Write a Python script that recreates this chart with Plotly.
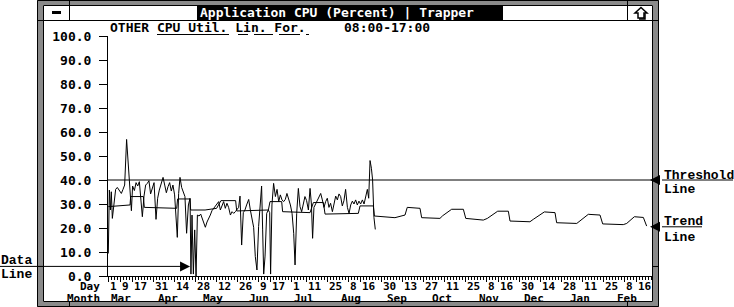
import plotly.graph_objects as go

# ---------------- data (x = days after 1 Mar) ----------------
data_day = [0.2, 0.9, 1.6, 2.2, 2.9, 4.0, 5.1, 6.2, 7.6, 8.9,
            10.0, 11.1, 12.4, 13.3, 14.2, 15.6, 16.4, 17.6, 18.7, 19.8,
            20.9, 22.0, 22.9, 24.0, 25.1, 26.2, 27.3, 28.4, 29.6, 30.7,
            32.0, 33.1, 34.2, 35.3, 36.7, 37.8, 38.9, 40.0, 41.1, 42.2,
            43.3, 44.4, 45.6, 46.2, 47.1, 48.0, 49.1, 50.2, 51.3, 52.4,
            53.6, 54.7, 55.3, 56.0, 56.9, 57.8, 58.7, 59.6, 60.7, 61.8,
            62.9, 64.0, 64.9, 66.0, 67.1, 68.2, 69.3, 70.4, 71.6, 72.7,
            73.8, 74.9, 76.0, 77.1, 78.2, 79.3, 80.4, 81.6, 82.7, 83.8,
            84.9, 86.0, 87.1, 88.0, 89.1, 90.2, 91.3, 92.4, 93.8, 94.9,
            96.0, 97.1, 98.2, 99.3, 100.4, 101.6, 102.4, 103.1, 103.8, 104.7,
            105.8, 106.9, 107.8, 108.4, 109.3, 110.4, 111.6, 112.7, 113.8, 114.9,
            116.0, 117.1, 118.2, 119.3, 120.4, 121.6, 122.7, 123.8, 124.7, 125.8,
            126.9, 128.0, 129.1, 130.2, 131.3, 132.4, 133.6, 134.7, 135.6, 136.4,
            137.3, 138.4, 139.6, 140.7, 141.8, 142.9, 144.0, 145.1, 146.2, 147.3,
            148.4, 149.6, 150.7, 151.8, 152.9, 154.0, 155.1, 156.2, 157.3, 158.4,
            159.6, 160.7, 161.8, 162.9, 164.0, 165.1, 166.2, 167.3, 168.4, 169.6,
            170.7, 171.8, 172.9, 173.8, 174.7, 175.6, 176.4, 177.3, 178.2]
data_val = [9.4, 35.8, 27.5, 35.1, 24.0, 31.7, 36.1, 36.9, 35.6, 34.4,
            36.1, 37.9, 56.9, 47.6, 36.5, 27.2, 37.5, 35.6, 38.9, 37.5,
            39.3, 32.4, 24.7, 33.3, 37.9, 38.6, 39.7, 34.2, 36.5, 38.9,
            23.6, 32.4, 35.8, 38.6, 41.1, 37.9, 34.7, 37.2, 38.9, 35.4,
            37.9, 33.8, 21.9, 16.1, 34.4, 41.1, 36.9, 35.1, 33.1, 17.8,
            29.6, 32.4, 0.8, 25.4, 0.8, 19.2, 0.0, 25.4, 25.0, 25.8,
            23.6, 21.9, 20.3, 22.5, 24.4, 25.4, 27.2, 28.1, 28.9, 30.0,
            31.0, 27.5, 29.6, 31.0, 28.2, 30.3, 28.6, 25.4, 26.8, 26.1,
            26.8, 27.5, 28.6, 33.3, 12.9, 26.4, 27.5, 29.6, 31.9, 27.5,
            24.0, 20.3, 8.1, 2.5, 20.6, 31.4, 37.5, 19.2, 0.8, 8.3,
            26.1, 27.5, 26.4, 0.8, 29.6, 38.6, 33.1, 36.1, 31.0, 33.8,
            31.7, 31.0, 31.9, 34.4, 32.4, 29.6, 26.1, 17.8, 4.6, 26.1,
            36.5, 28.9, 26.8, 30.0, 33.1, 31.4, 27.5, 36.5, 30.0, 15.7,
            28.6, 30.0, 31.7, 33.3, 34.4, 31.7, 28.6, 31.0, 32.4, 28.6,
            30.3, 26.8, 30.0, 33.3, 31.7, 34.2, 33.1, 29.2, 31.4, 36.1,
            28.6, 26.1, 29.6, 31.2, 30.0, 31.7, 29.6, 31.2, 30.0, 31.7,
            30.0, 33.1, 36.1, 32.4, 48.1, 44.9, 40.0, 24.4, 19.4]

trend_day = [0.2, 8.0, 14.7, 15.1, 23.6, 24.2, 45.8, 46.4, 54.7, 55.1,
             64.7, 72.4, 75.3, 85.1, 85.8, 106.9, 108.0, 115.8, 116.4, 134.7,
             136.9, 143.6, 144.7, 166.9, 168.0, 176.9, 177.6, 191.3, 198.0, 199.5,
             208.0, 209.1, 221.3, 223.1, 229.1, 236.9, 238.5, 250.2, 252.9, 259.8,
             266.9, 268.0, 281.3, 283.5, 290.9, 298.0, 299.1, 312.5, 314.7, 320.2,
             328.0, 329.8, 343.5, 345.8, 350.9, 356.9, 359.1]
trend_val = [28.9, 29.4, 29.6, 33.1, 33.1, 28.6, 28.2, 32.1, 32.1, 27.5,
             27.5, 28.2, 31.4, 31.4, 27.1, 27.5, 31.0, 31.0, 26.8, 26.4,
             30.6, 30.6, 25.8, 26.1, 29.2, 29.2, 25.0, 24.3, 25.4, 28.6,
             28.2, 24.3, 24.0, 25.1, 27.8, 27.8, 24.0, 23.3, 24.0, 27.0,
             27.0, 22.9, 22.6, 23.6, 26.7, 26.4, 22.2, 21.9, 22.9, 25.7,
             25.4, 21.7, 21.4, 21.9, 24.7, 24.4, 20.8]

THRESHOLD = 40.0
TREND_END = 20.5
DATA_POINTER = (54.7, 4.0)

tick_days = [0, 8, 16, 30, 44, 58, 72, 86, 100, 108, 122, 132, 146, 160, 168,
             182, 196, 210, 224, 238, 252, 260, 274, 288, 302, 316, 330, 344, 352]
tick_text = ["1", "9", "17", "31", "14", "28", "12", "26", "9", "17", "1", "11", "25", "8", "16",
             "30", "13", "27", "11", "25", "8", "16", "30", "14", "28", "11", "25", "8", "16"]
month_days = [0, 31, 61, 92, 122, 153, 184, 214, 245, 275, 306, 337]
month_text = ["Mar", "Apr", "May", "Jun", "Jul", "Aug", "Sep", "Oct", "Nov", "Dec", "Jan", "Feb"]
y_ticks = [0, 10, 20, 30, 40, 50, 60, 70, 80, 90, 100]
y_text = ["0.0", "10.0", "20.0", "30.0", "40.0", "50.0", "60.0", "70.0", "80.0", "90.0", "100.0"]

# ---------------- geometry ----------------
W, H = 734, 307
ML, MR, MT, MB = 108, 81, 36, 31
PW = W - ML - MR
PH = H - MT - MB
X_MAX = PW / 1.5


def px(x):
    return (x - ML) / PW


def py(y):
    return (H - MB - y) / PH


SYS = dict(family="DejaVu Sans Mono", size=13, color="black", weight="bold")
SYS_S = dict(family="DejaVu Sans Mono", size=11, color="black", weight="bold")
SERIF = dict(family="Liberation Mono", size=13, color="black", weight="bold")
HATCH = "#8a8a8a"

fig = go.Figure()
fig.add_trace(go.Scatter(x=data_day, y=data_val, mode="lines",
                         line=dict(color="black", width=1), showlegend=False, hoverinfo="skip"))
fig.add_trace(go.Scatter(x=trend_day, y=trend_val, mode="lines",
                         line=dict(color="black", width=1), showlegend=False, hoverinfo="skip"))

shapes = []


def rect(x0, y0, x1, y1, fill, lw=0):
    shapes.append(dict(type="rect", xref="paper", yref="paper", x0=px(x0), x1=px(x1),
                       y0=py(y1), y1=py(y0), fillcolor=fill,
                       line=dict(width=lw, color="black"), layer="above"))


def seg(x0, y0, x1, y1, w=1):
    shapes.append(dict(type="line", xref="paper", yref="paper", x0=px(x0), x1=px(x1),
                       y0=py(y0), y1=py(y1), line=dict(width=w, color="black"), layer="above"))


# window frame (hatched border)
rect(37, 0, 659, 5, HATCH)
rect(37, 302, 659, 307, HATCH)
rect(37, 0, 43, 307, HATCH)
rect(653, 0, 659, 307, HATCH)
rect(37.5, 0.5, 658.5, 306.5, "rgba(0,0,0,0)", 1)
rect(43.5, 5.5, 652.5, 301.5, "rgba(0,0,0,0)", 1)
# resize notches
for xx in (69.5, 627.5):
    seg(xx, 0, xx, 5)
    seg(xx, 302, xx, 307)
for yy in (20.5, 266.5):
    seg(37, yy, 43, yy)
    seg(653, yy, 659, yy)
# title bar
seg(43, 20.5, 653, 20.5)
seg(69.5, 5, 69.5, 20.5)
seg(627.5, 5, 627.5, 20.5)
rect(197, 6, 503, 20, "black")
rect(52, 11, 61, 14, "black")
arrow_pts = [(641, 7.5), (647, 13), (644, 13), (644, 18), (638, 18), (638, 13), (635, 13)]
shadow_pts = [(645, 13.5), (645, 19), (639, 19)]
path = "M " + " L ".join(f"{px(a):.5f},{py(b):.5f}" for a, b in arrow_pts) + " Z"
shapes.append(dict(type="path", xref="paper", yref="paper", path=path,
                   fillcolor="white", line=dict(color="black", width=1.5), layer="above"))
spath = "M " + " L ".join(f"{px(a):.5f},{py(b):.5f}" for a, b in shadow_pts)
shapes.append(dict(type="path", xref="paper", yref="paper", path=spath,
                   line=dict(color="black", width=1.5), layer="above"))
# header underlines
for a, b in [(157, 229), (238, 248), (254, 273), (279, 300), (306, 309)]:
    seg(a, 34.5, b, 34.5)

# threshold line + side label underlines
shapes.append(dict(type="line", xref="x", yref="y", x0=0, x1=X_MAX, y0=THRESHOLD, y1=THRESHOLD,
                   line=dict(color="black", width=1), layer="above"))
shapes.append(dict(type="line", xref="paper", yref="y", x0=px(662), x1=px(733),
                   y0=THRESHOLD, y1=THRESHOLD, line=dict(color="black", width=1), layer="above"))
shapes.append(dict(type="line", xref="paper", yref="y", x0=px(662), x1=px(702),
                   y0=TREND_END, y1=TREND_END, line=dict(color="black", width=1), layer="above"))
shapes.append(dict(type="line", xref="paper", yref="y", x0=px(0), x1=px(186),
                   y0=DATA_POINTER[1], y1=DATA_POINTER[1], line=dict(color="black", width=1),
                   layer="above"))

ann = []


def text(x, y, s, anchor="left", font=SYS, color=None):
    f = dict(font)
    if color:
        f["color"] = color
    ann.append(dict(x=px(x), y=py(y), xref="paper", yref="paper", text=s, showarrow=False,
                    xanchor=anchor, yanchor="middle", font=f, borderpad=0))


# title + header
text(199, 12.4, "Application CPU (Percent) | Trapper", color="white")
text(109, 27.9, "OTHER CPU Util. Lin. For.")
text(343, 27.9, "08:00-17:00")
# axis row captions
text(101, 286, "Day", "right", font=SYS_S)
text(101, 298.5, "Month", "right", font=SYS_S)
for d, t in zip(tick_days, tick_text):
    ann.append(dict(x=d, y=py(286), xref="x", yref="paper", text=t, showarrow=False,
                    xanchor="left", xshift=1, yanchor="middle", font=SYS_S, borderpad=0))
for d, t in zip(month_days, month_text):
    ann.append(dict(x=d, y=py(298.5), xref="x", yref="paper", text=t, showarrow=False,
                    xanchor="left", xshift=2, yanchor="middle", font=SYS_S, borderpad=0))
# side call-outs
text(663, 175, "Threshold", font=SERIF)
text(663, 189, "Line", font=SERIF)
text(663, 221, "Trend", font=SERIF)
text(663, 237, "Line", font=SERIF)
text(0, 260, "Data", font=SERIF)
text(0, 274, "Line", font=SERIF)
# arrow heads
for (x, y, axo) in [(X_MAX - 2, THRESHOLD, 6), (X_MAX - 2, TREND_END, 6),
                    (DATA_POINTER[0], DATA_POINTER[1], -6)]:
    ann.append(dict(x=x, y=y, xref="x", yref="y", text="", showarrow=True, ax=axo, ay=0,
                    arrowhead=2, arrowsize=2, arrowwidth=1, arrowcolor="black", standoff=0))

fig.update_layout(
    width=W, height=H, margin=dict(l=ML, r=MR, t=MT, b=MB, pad=0),
    paper_bgcolor="white", plot_bgcolor="white", showlegend=False,
    xaxis=dict(range=[0, X_MAX], showgrid=False, zeroline=False, showline=True,
               linecolor="black", linewidth=1, ticks="outside", tickvals=tick_days,
               ticklen=5, tickwidth=1, tickcolor="black", showticklabels=False,
               minor=dict(ticks="outside", tick0=0, dtick=2, ticklen=3, tickwidth=1,
                          tickcolor="black", showgrid=False),
               fixedrange=True),
    yaxis=dict(range=[0, 100], showgrid=False, zeroline=False, showline=True,
               linecolor="black", linewidth=1, ticks="outside", ticklen=8, tickwidth=1,
               tickcolor="black", tickvals=y_ticks, ticktext=y_text, tickfont=SYS,
               ticklabelstandoff=5, fixedrange=True),
    shapes=shapes, annotations=ann,
)

fig.write_html("out.html")
